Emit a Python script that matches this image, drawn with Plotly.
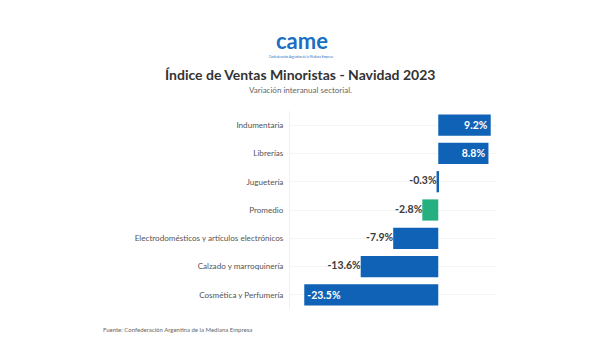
import plotly.graph_objects as go

categories = ["Indumentaria", "Librerías", "Juguetería", "Promedio",
              "Electrodomésticos y artículos electrónicos",
              "Calzado y marroquinería", "Cosmética y Perfumería"]
values = [9.2, 8.8, -0.3, -2.8, -7.9, -13.6, -23.5]
labels = ["9.2%", "8.8%", "-0.3%", "-2.8%", "-7.9%", "-13.6%", "-23.5%"]

BLUE = "#0f62b5"
GREEN = "#26b07f"
colors = [GREEN if c == "Promedio" else BLUE for c in categories]
# labels drawn inside the bar: positive bars and the longest negative bar
inside = [v > 5 or v < -20 for v in values]

# page body has an 8px margin; build the figure so that it lands on target pixels
OFF = 8
W, H = 600 - OFF, 360 - OFF
l, t = 290 - OFF, 111 - OFF
pw, ph = 207, 198
r, b = W - l - pw, H - t - ph

fig = go.Figure()
fig.add_trace(go.Bar(
    x=values, y=categories, orientation="h",
    marker=dict(color=colors, line=dict(width=0)),
    text=["<b>" + s + "</b>" if i else "" for s, i in zip(labels, inside)],
    textposition="inside",
    insidetextanchor="end",
    insidetextfont=dict(family="Lato", size=10.5, color="#ffffff"),
    constraintext="none",
    cliponaxis=False,
    hoverinfo="skip",
))
out_x = [v for v, i in zip(values, inside) if not i]
out_y = [c for c, i in zip(categories, inside) if not i]
out_t = ["<b>" + s + "</b>" for s, i in zip(labels, inside) if not i]
fig.add_trace(go.Scatter(
    x=out_x, y=out_y, mode="text", text=out_t,
    textposition=["middle left" if v < 0 else "middle right" for v in out_x],
    textfont=dict(family="Lato", size=10.5, color="#3a3a3a"),
    cliponaxis=False, hoverinfo="skip",
))

def ann(text, px, py, size, color, xanchor="center"):
    return dict(text=text, x=(px - OFF - l) / pw, y=1 - (py - OFF - t) / ph,
                xref="paper", yref="paper", showarrow=False,
                xanchor=xanchor, yanchor="middle",
                font=dict(family="Lato", size=size, color=color))

fig.update_layout(
    width=W, height=H,
    paper_bgcolor="white", plot_bgcolor="white",
    margin=dict(l=l, r=r, t=t, b=b),
    bargap=0.25,
    showlegend=False,
    font=dict(family="Lato", color="#444"),
    xaxis=dict(range=[-26, 10.3], showticklabels=False, showgrid=False,
               zeroline=False, fixedrange=True),
    yaxis=dict(autorange="reversed", showgrid=True, gridcolor="#f4f4f4",
               gridwidth=1, showline=True, linecolor="#f0f0f0", linewidth=1,
               tickfont=dict(family="Lato", size=8.1, color="#555"),
               ticks="", ticklabelstandoff=4, fixedrange=True),
    annotations=[
        ann("<b>Índice de Ventas Minoristas - Navidad 2023</b>", 300, 74, 14, "#333"),
        ann("Variación interanual sectorial.", 300, 90, 8, "#666"),
        ann("<b>came</b>", 302, 40, 22, "#1a6fc4"),
        ann("Confederación Argentina de la Mediana Empresa", 301, 57, 3, "#1a6fc4"),
        ann("Fuente: Confederación Argentina de la Mediana Empresa", 101, 329, 6, "#666", "left"),
    ],
)

fig.write_html("out.html")
